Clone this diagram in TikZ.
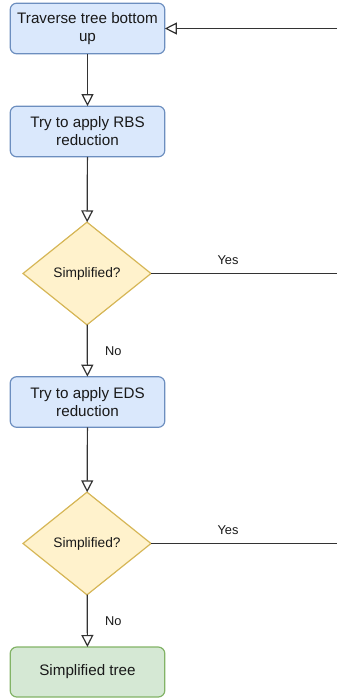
\documentclass[tikz,border=0pt]{standalone}
\usepackage{fontspec}
\setmainfont{Liberation Sans}
\usetikzlibrary{shapes.geometric,arrows.meta}
\definecolor{procfill}{HTML}{DAE8FC}
\definecolor{procline}{HTML}{6C8EBF}
\definecolor{condfill}{HTML}{FFF2CC}
\definecolor{condline}{HTML}{D6B656}
\definecolor{donefill}{HTML}{D5E8D4}
\definecolor{doneline}{HTML}{82B366}

\begin{document}
\begin{tikzpicture}[x=0.75pt, y=-0.75pt,
  every node/.style={text=black!90, outer sep=0pt},
  proc/.style={draw=procline, fill=procfill, line width=0.9pt, rounded corners=5pt, minimum width=116pt, minimum height=38pt, align=center, font=\fontsize{11.4}{13.5}\selectfont},
  done/.style={proc, draw=doneline, fill=donefill, minimum height=37.5pt},
  cond/.style={diamond, draw=condline, fill=condfill, line width=0.9pt, minimum width=96pt, minimum height=77pt, inner sep=0pt, font=\fontsize{10.3}{12}\selectfont},
  lbl/.style={font=\fontsize{9.6}{11}\selectfont},
  flow/.style={-{Triangle[open, length=9pt, width=9pt]}}]
\useasboundingbox (0,0) rectangle (337,698);
\node[proc] (trav) at (87.5,28.5) {Traverse tree bottom\\up};
\node[proc] (rbs) at (87.5,131.5) {Try to apply RBS\\reduction};
\node[cond] (chk1) at (87,273.5) {Simplified?};
\node[proc] (eds) at (87.5,402) {Try to apply EDS\\reduction};
\node[cond] (chk2) at (87,543.5) {Simplified?};
\node[done] (tree) at (87.5,672) {Simplified tree};
\coordinate (back) at (337,28.5);
\coordinate (yes1) at (337,273.5);
\coordinate (yes2) at (337,543.5);

\begin{scope}[draw=black!80, line width=0.9pt]
\draw[flow] (trav) -- (rbs);
\draw[flow] (rbs) -- (chk1);
\draw[flow] (chk1) -- node[lbl, right=10pt] {No} (eds);
\draw (chk1) -- node[lbl, above=3.5pt, pos=0.414] {Yes} (yes1);
\draw[flow] (eds) -- (chk2);
\draw (chk2) -- node[lbl, above=3.5pt, pos=0.414] {Yes} (yes2);
\draw[flow] (chk2) -- node[lbl, right=10pt] {No} (tree);
\draw[flow] (back) -- (trav);
\end{scope}
\end{tikzpicture}
\end{document}
